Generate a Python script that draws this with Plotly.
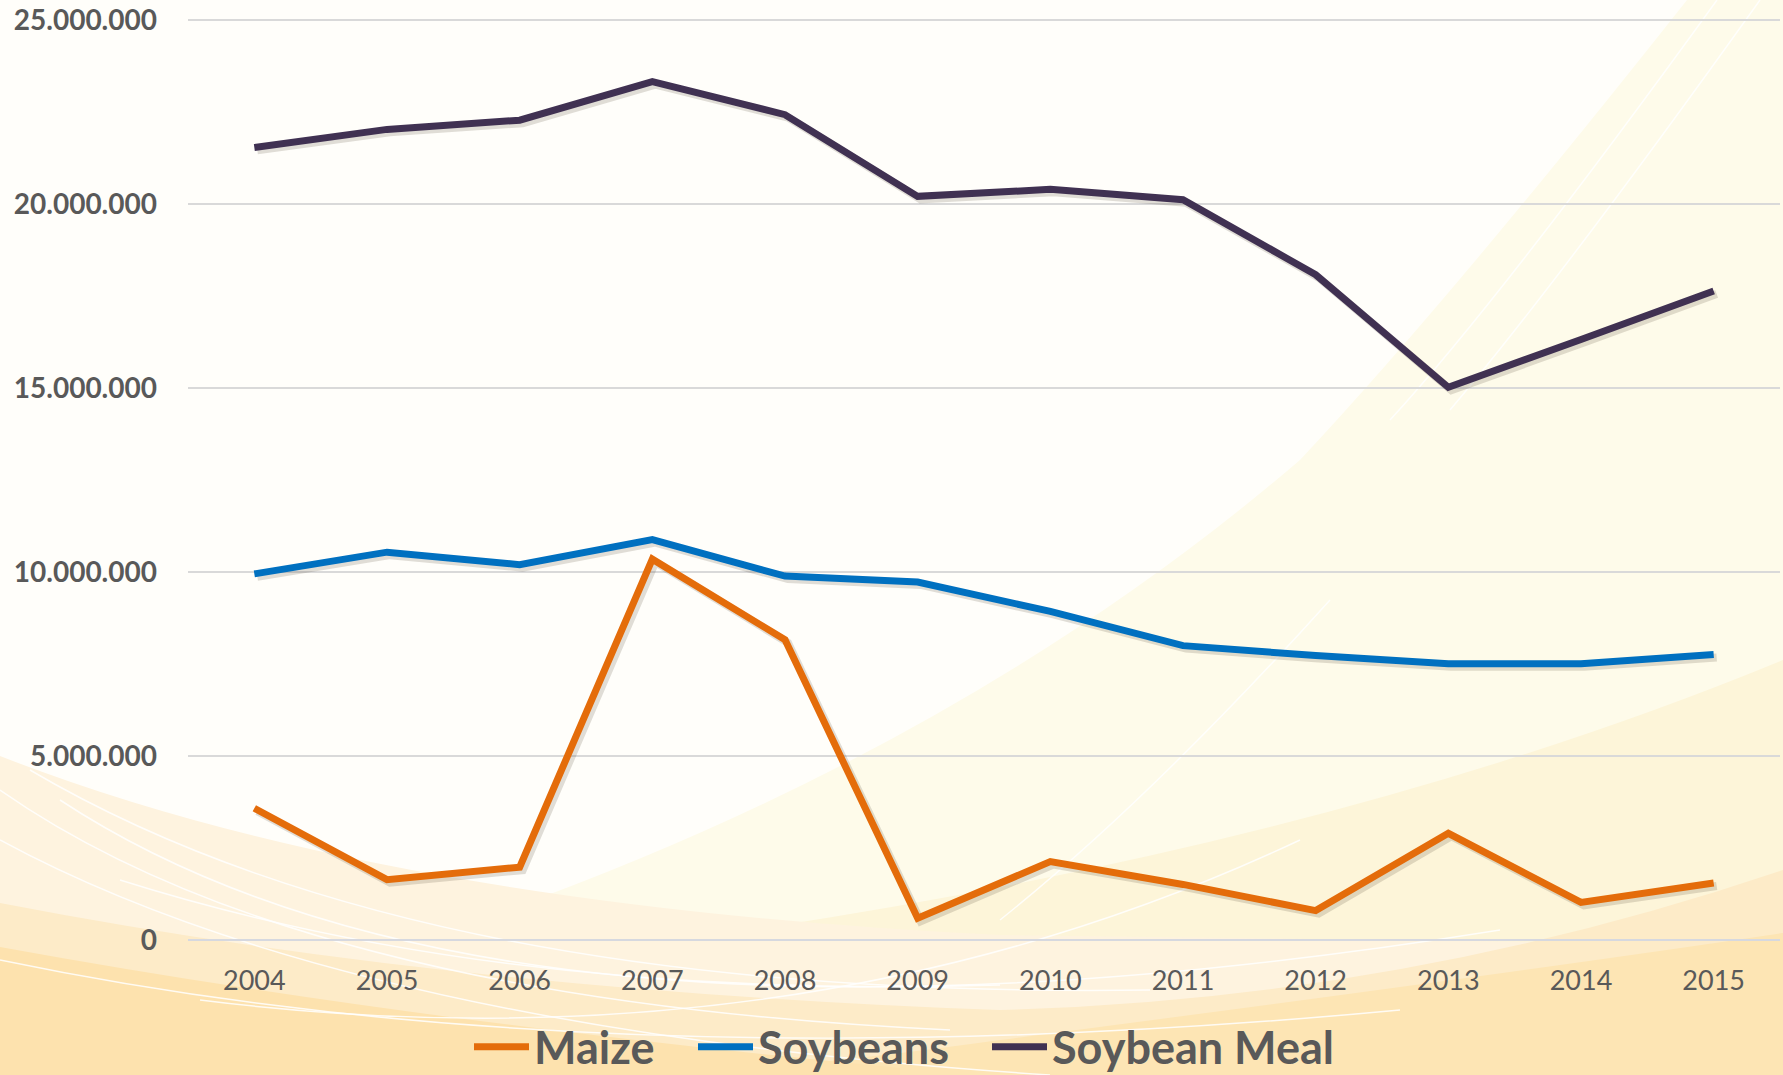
import re
import plotly.graph_objects as go

years = [2004, 2005, 2006, 2007, 2008, 2009, 2010, 2011, 2012, 2013, 2014, 2015]
maize = [3580000, 1640000, 1980000, 10350000, 8160000, 590000, 2130000, 1510000, 800000, 2900000, 1020000, 1550000]
soybeans = [9950000, 10540000, 10200000, 10880000, 9890000, 9730000, 8930000, 8000000, 7730000, 7510000, 7510000, 7760000]
soybean_meal = [21540000, 22030000, 22280000, 23330000, 22430000, 20210000, 20400000, 20120000, 18080000, 15020000, 16320000, 17640000]
y_ticks = [0, 5000000, 10000000, 15000000, 20000000, 25000000]
y_tick_text = ["0", "5.000.000", "10.000.000", "15.000.000", "20.000.000", "25.000.000"]

W, H = 1783, 1075
ML, MR, MT, MB = 188, 3, 19, 135
PW, PH = W - ML - MR, H - MT - MB


def to_paper(path):
    toks = re.findall(r"[A-Za-z]|-?\d+(?:\.\d+)?", path)
    out, nums = [], []
    for t in toks:
        if t.isalpha():
            out.append(t)
        else:
            nums.append(float(t))
            if len(nums) == 2:
                px, py = nums
                out.append(f"{(px - ML) / PW:.5f},{(H - MB - py) / PH:.5f}")
                nums = []
    return " ".join(out)


bg_fills = [
    ("M 1687 0 Q 1450 300 1300 460 Q 950 760 450 930 L 450 1075 L 1783 1075 L 1783 0 Z", "#FEFBEA"),
    ("M 1783 660 Q 1250 880 480 965 L 480 1075 L 1783 1075 Z", "#FDF5D9"),
    ("M 0 756 Q 380 905 1000 935 L 1783 945 L 1783 1075 L 0 1075 Z", "#FEF3DF"),
    ("M 0 903 Q 450 990 1000 1010 Q 1400 1000 1783 870 L 1783 1075 L 0 1075 Z", "#FDEBC8"),
    ("M 1783 933 Q 1500 975 1000 1040 Q 800 1068 650 1075 L 1783 1075 Z", "#FDE5B4"),
    ("M 0 947 Q 400 1020 900 1068 L 900 1075 L 0 1075 Z", "#FDE2AE"),
]
white_arcs = [
    "M 0 790 Q 300 1000 950 1030",
    "M 30 770 Q 420 1000 1150 990",
    "M 0 840 Q 350 1030 1050 1075",
    "M 120 880 Q 500 1000 1000 985",
    "M 0 960 Q 600 1085 1400 1010",
    "M 60 800 Q 500 1090 1500 930",
    "M 200 1000 Q 800 1075 1300 840",
    "M 1717 0 Q 1500 300 1390 420",
    "M 1760 0 Q 1560 280 1450 410",
    "M 1330 600 Q 1150 800 1000 920",
]

shapes = []
for p, c in bg_fills:
    shapes.append(dict(type="path", xref="paper", yref="paper", path=to_paper(p),
                       fillcolor=c, line=dict(width=0), layer="below"))
for p in white_arcs:
    shapes.append(dict(type="path", xref="paper", yref="paper", path=to_paper(p),
                       line=dict(color="rgba(255,255,255,0.85)", width=1.5), layer="below"))

series = [("Maize", maize, "#E46C0A"), ("Soybeans", soybeans, "#0070C0"), ("Soybean Meal", soybean_meal, "#403152")]
legend_ids = ["legend", "legend2", "legend3"]
text_start_px = [534, 758, 1052]
ITEMW = 55
LEG_Y = 1047

fig = go.Figure()
# soft drop shadows
dx = 3 / (PW / 12.0)
dy = 3 * 25000000 / PH
for name, vals, col in series:
    fig.add_trace(go.Scatter(x=[v + dx for v in years], y=[v - dy for v in vals], mode="lines",
                             line=dict(color="rgba(60,50,30,0.16)", width=8),
                             showlegend=False, hoverinfo="skip"))
for (name, vals, col), lid in zip(series, legend_ids):
    fig.add_trace(go.Scatter(x=years, y=vals, name=name, mode="lines", legend=lid,
                             line=dict(color=col, width=7)))

legend_common = dict(orientation="h", xanchor="left", yanchor="middle",
                     y=(H - MB - LEG_Y) / PH,
                     font=dict(family="Lato", size=45, color="#595959", weight="bold"),
                     bgcolor="rgba(0,0,0,0)", itemwidth=ITEMW, borderwidth=0)
legends = {}
for lid, tx in zip(legend_ids, text_start_px):
    legends[lid] = dict(legend_common, x=(tx - ITEMW - 10 - ML) / PW)

fig.update_layout(
    width=W, height=H,
    margin=dict(l=ML, r=MR, t=MT, b=MB, autoexpand=False),
    paper_bgcolor="#FFFEFA",
    plot_bgcolor="rgba(0,0,0,0)",
    shapes=shapes,
    showlegend=True,
    xaxis=dict(range=[2003.5, 2015.5], tickvals=years, ticktext=[str(y) for y in years],
               showgrid=False, zeroline=False, showline=False, ticks="",
               ticklabelstandoff=22,
               tickfont=dict(family="Lato", size=27, color="#595959")),
    yaxis=dict(range=[0, 25030000], tickvals=y_ticks, ticktext=y_tick_text,
               showgrid=True, gridcolor="#D9D9D9", gridwidth=2,
               zeroline=True, zerolinecolor="#D6D8DF", zerolinewidth=2,
               showline=False, ticks="", ticklabelstandoff=30,
               tickfont=dict(family="Lato", size=28, color="#595959", weight="bold")),
    **legends,
)

fig.write_html("out.html", config={"displayModeBar": False},
               post_script="document.body.style.margin='0px';document.body.style.overflow='hidden';")
